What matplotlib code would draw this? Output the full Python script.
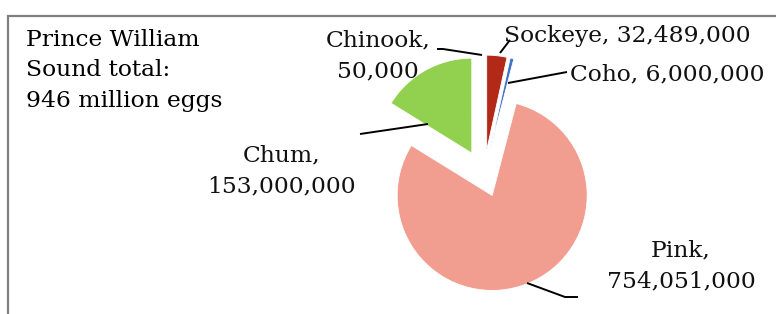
import matplotlib
matplotlib.use("Agg")
import matplotlib.pyplot as plt
from matplotlib.patches import Rectangle

plt.rcParams["font.family"] = ["DejaVu Serif"]

species = ["Sockeye", "Coho", "Pink", "Chum", "Chinook"]
eggs = [32489000, 6000000, 754051000, 153000000, 50000]
colors = ["#B22A17", "#4472C4", "#F19E90", "#92D050", "#F4C7BE"]
total_label = "Prince William\nSound total:\n946 million eggs"

W, H = 776, 314
fig = plt.figure(figsize=(W / 100, H / 100), dpi=100)
ax = fig.add_axes([0, 0, 1, 1])

ax.pie(eggs, colors=colors, startangle=90, counterclock=False,
       center=(484, H - 175), radius=95,
       explode=[25, 25, 22, 25, 25],
       wedgeprops={"edgecolor": "white", "linewidth": 0.6})
ax.set_xlim(0, W); ax.set_ylim(0, H); ax.set_aspect("equal")
ax.axis("off")

fs = 16.8
LS = 1.5

def lbl(i, x, y, ha="center"):
    txt = f"{species[i]}, {eggs[i]:,}" if ha == "left" else f"{species[i]},\n{eggs[i]:,}"
    ax.text(x, H - y, txt, ha=ha, va="center", fontsize=fs, linespacing=LS, color="#111111")

def lead(xs, ys):
    ax.plot(xs, [H - v for v in ys], color="black", lw=1.4, solid_capstyle="butt")

ax.text(26, H - 70, total_label, ha="left", va="center", fontsize=fs, linespacing=LS)
lbl(4, 378, 56)
lead([437, 443, 482], [49, 49, 55])
lbl(0, 504, 36, ha="left")
lead([500, 510], [53, 40])
lbl(1, 570, 74, ha="left")
lead([508, 567], [83, 72])
lbl(3, 282, 171)
lead([360, 428], [134, 124])
lbl(2, 681, 266)
lead([527, 565, 578], [283, 297, 297])

fig.patches.append(Rectangle((8, -20), W + 20, H - 8 + 20 - 8, transform=None,
                             fill=False, edgecolor="#7F7F7F", lw=1.6))
fig.savefig("out.png", dpi=100)
